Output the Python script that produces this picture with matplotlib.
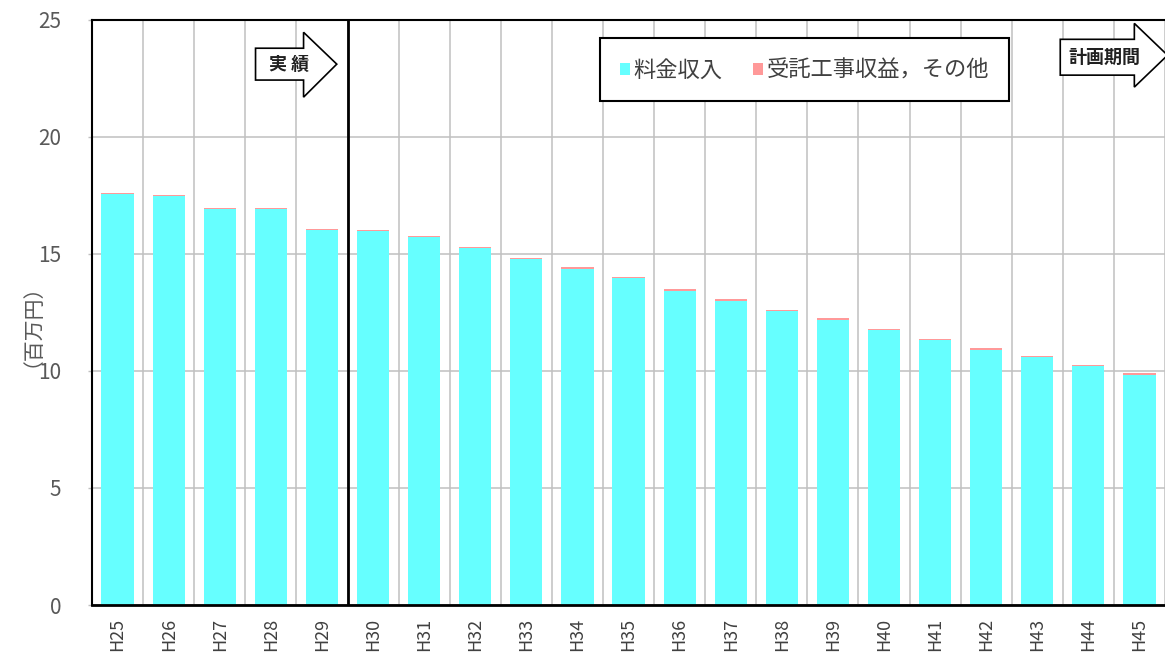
import matplotlib
matplotlib.use("Agg")
import matplotlib.pyplot as plt
from matplotlib.patches import Polygon
import numpy as np

plt.rcParams['font.family'] = ['Noto Sans CJK JP', 'DejaVu Sans']

# データ（百万円）
years = ['H25', 'H26', 'H27', 'H28', 'H29', 'H30', 'H31', 'H32', 'H33', 'H34', 'H35',
         'H36', 'H37', 'H38', 'H39', 'H40', 'H41', 'H42', 'H43', 'H44', 'H45']
ryokin = [17.54, 17.45, 16.91, 16.91, 16.02, 15.96, 15.72, 15.23, 14.79, 14.37, 13.95,
          13.43, 13.00, 12.57, 12.19, 11.73, 11.32, 10.91, 10.58, 10.20, 9.84]
sonota = [0.05, 0.05, 0.05, 0.05, 0.05, 0.05, 0.05, 0.05, 0.05, 0.05, 0.05,
          0.05, 0.05, 0.05, 0.05, 0.05, 0.05, 0.05, 0.05, 0.05, 0.05]
labels = ['料金収入', '受託工事収益，その他']

fig = plt.figure(figsize=(11.65, 6.55), dpi=100)
ax = fig.add_axes([0.079, 0.0763, 0.921, 0.8937])

x = np.arange(len(years))
b1 = ax.bar(x, ryokin, width=0.63, color='#66FFFF', label=labels[0], zorder=2)
b2 = ax.bar(x, sonota, width=0.63, bottom=ryokin, color='#FF9999', label=labels[1], zorder=2)

ax.set_xlim(-0.5, len(years) - 0.5)
ax.set_ylim(0, 25)
ax.set_yticks([0, 5, 10, 15, 20, 25])
ax.set_xticks(x)
ax.set_xticklabels(years, rotation=90, fontsize=13, color='#404040')
ax.set_xticks(np.arange(-0.5, len(years)), minor=True)
ax.tick_params(axis='x', which='both', length=0, pad=9)
ax.tick_params(axis='y', length=3, width=1, color='#bfbfbf', labelsize=15,
               labelcolor='#595959', pad=19)

# グリッド
ax.grid(axis='y', which='major', color='#c0c0c0', linewidth=1.1, zorder=0)
ax.grid(axis='x', which='minor', color='#c0c0c0', linewidth=1.1, zorder=0)
ax.set_axisbelow(True)

for side in ['left', 'top']:
    ax.spines[side].set_linewidth(1.5)
    ax.spines[side].set_color('black')
ax.spines['bottom'].set_linewidth(2.0)
ax.spines['right'].set_visible(False)

# 実績／計画期間の境界
ax.axvline(4.5, color='black', linewidth=2.0, zorder=3)

fig.text(22 / 1165, 1 - 315 / 655, '（百万円）', rotation=90, fontsize=15,
         color='#595959', ha='center', va='center')

# 矢印
arrow1 = [(2.70, 23.78), (3.64, 23.78), (3.64, 24.46), (4.29, 23.10),
          (3.64, 21.69), (3.64, 22.42), (2.70, 22.42)]
arrow2 = [(18.45, 24.16), (19.90, 24.16), (19.90, 24.84), (20.55, 23.48),
          (19.90, 22.12), (19.90, 22.63), (18.45, 22.63)]
for pts in [arrow1, arrow2]:
    ax.add_patch(Polygon(pts, closed=True, facecolor='white', edgecolor='black',
                         linewidth=1.2, zorder=4, clip_on=False))
ax.text(3.35, 23.10, '実 績', fontsize=13, fontweight='bold', color='#202020',
        ha='center', va='center', zorder=5)
ax.text(19.32, 23.40, '計画期間', fontsize=13, fontweight='bold', color='#202020',
        ha='center', va='center', zorder=5)

leg = ax.legend(handles=[b1, b2], loc='center', bbox_to_anchor=(0.664, 0.914), ncol=2,
                fontsize=16, frameon=True, fancybox=False, framealpha=1,
                edgecolor='black', handlelength=0.45, handleheight=0.45,
                handletextpad=0.15, columnspacing=1.4, borderpad=0.9,
                labelcolor='#404040')
leg.get_frame().set_linewidth(1.5)
leg.set_zorder(6)

fig.savefig('out.png', dpi=100)
